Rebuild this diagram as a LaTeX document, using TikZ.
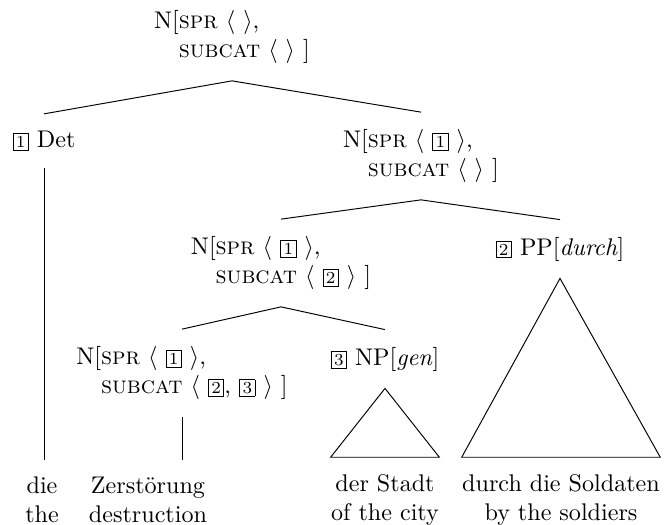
\documentclass[tikz,border=0pt]{standalone}
\usepackage{tikz}
\usetikzlibrary{positioning}

\newcommand{\boxnum}[1]{{\setlength{\fboxsep}{0.9pt}\setlength{\fboxrule}{0.4pt}%
  \fbox{\makebox[4.2pt]{\rule{0pt}{4.6pt}\scriptsize #1}}}}
\newcommand{\ind}{\phantom{N[}}

\begin{document}
\begin{tikzpicture}[
  x=0.415pt, y=-0.415pt,
  cat/.style={align=left, inner xsep=0pt, inner ysep=7pt},
  wrd/.style={align=center, inner xsep=0pt, inner ysep=7pt},
  br/.style={draw=black, line width=0.4pt}
]
\useasboundingbox (0,0) rectangle (664,525);

\node[cat] (root) at (232,37) {N[\textsc{spr} $\langle$ $\rangle$,\\
  \ind\textsc{subcat} $\langle$ $\rangle$ ]};

\node[cat] (det) at (44,141) {\boxnum{1} Det};
\node[cat] (nr) at (421,156) {N[\textsc{spr} $\langle$ \boxnum{1} $\rangle$,\\
  \ind\textsc{subcat} $\langle$ $\rangle$ ]};

\node[cat] (nm) at (281,263) {N[\textsc{spr} $\langle$ \boxnum{1} $\rangle$,\\
  \ind\textsc{subcat} $\langle$ \boxnum{2} $\rangle$ ]};
\node[cat] (pp) at (560,249) {\boxnum{2} PP[\textit{durch}]};

\node[cat] (nl) at (182,373) {N[\textsc{spr} $\langle$ \boxnum{1} $\rangle$,\\
  \ind\textsc{subcat} $\langle$ \boxnum{2}, \boxnum{3} $\rangle$ ]};
\node[cat] (np) at (385,359) {\boxnum{3} NP[\textit{gen}]};

\node[wrd] (die) at (42,500) {die\\the};
\node[wrd] (zer) at (148,500) {Zerstörung\\destruction};
\node[wrd] (stadt) at (385,500) {der Stadt\\of the city};
\node[wrd] (sold) at (561,500) {durch die Soldaten\\by the soldiers};

\draw[br] (root.south) -- (det.north);
\draw[br] (root.south) -- (nr.north);
\draw[br] (nr.south) -- (nm.north);
\draw[br] (nr.south) -- (pp.north);
\draw[br] (nm.south) -- (nl.north);
\draw[br] (nm.south) -- (np.north);
\draw[br] (det.south) -- (det.south |- die.north);
\draw[br] (nl.south) -- (nl.south |- zer.north);

% triangles over the unanalysed phrases
\draw[br] (np.south) -- (stadt.north east) -- (stadt.north west) -- cycle;
\draw[br] (pp.south) -- (sold.north east) -- (sold.north west) -- cycle;
\end{tikzpicture}
\end{document}
